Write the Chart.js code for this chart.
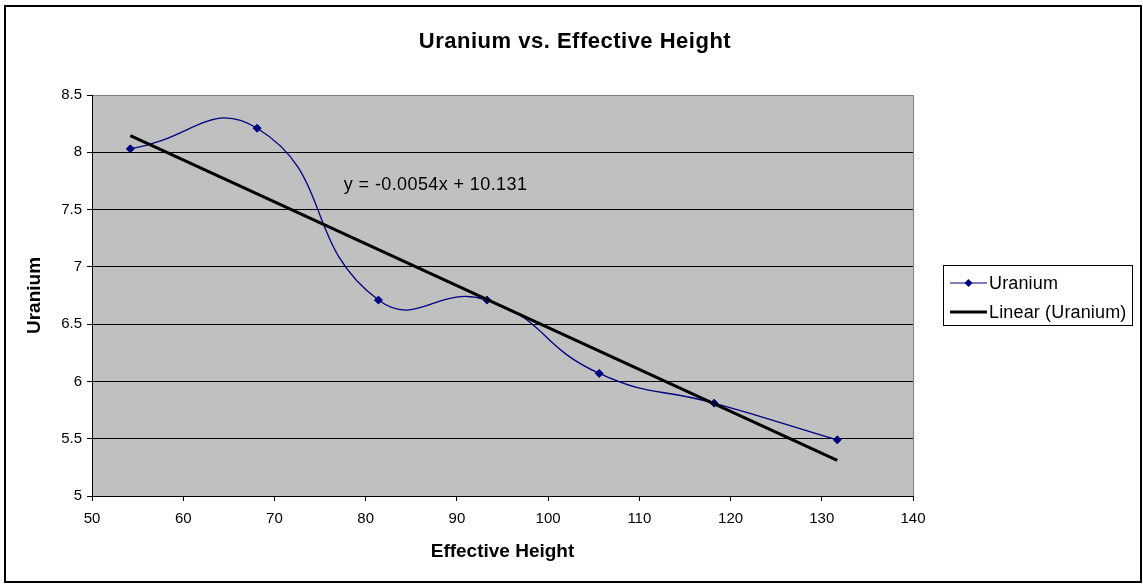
<!DOCTYPE html>
<html>
<head>
<meta charset="utf-8">
<script src="https://cdn.jsdelivr.net/npm/chart.js@4/dist/chart.umd.min.js"></script>
<style>
  html, body { margin: 0; padding: 0; background: #ffffff; }
  #wrap { width: 1143px; height: 584px; }
</style>
</head>
<body>
<div id="wrap"><canvas id="chart" width="1143" height="584"></canvas></div>
<script>
// Measurements: effective height vs uranium
const effectiveHeight = [54.2, 68.1, 81.4, 93.3, 105.6, 118.2, 131.7];
const uranium = [8.03, 8.21, 6.71, 6.71, 6.07, 5.81, 5.49];

const chartTitle = 'Uranium vs. Effective Height';
const xTitle = 'Effective Height';
const yTitle = 'Uranium';
const seriesName = 'Uranium';
const trendName = 'Linear (Uranium)';
const equationText = 'y = -0.0054x + 10.131';

const xTicks = { min: 50, max: 140, step: 10 };
const yTicks = { min: 5, max: 8.5, step: 0.5 };

// Least-squares linear fit of the measurements
function linearFit(xs, ys) {
  const n = xs.length;
  const mx = xs.reduce((a, b) => a + b, 0) / n;
  const my = ys.reduce((a, b) => a + b, 0) / n;
  let sxy = 0, sxx = 0;
  for (let i = 0; i < n; i++) {
    sxy += (xs[i] - mx) * (ys[i] - my);
    sxx += (xs[i] - mx) * (xs[i] - mx);
  }
  const slope = sxy / sxx;
  return { slope, intercept: my - slope * mx };
}
const fit = linearFit(effectiveHeight, uranium);
const xFirst = effectiveHeight[0];
const xLast = effectiveHeight[effectiveHeight.length - 1];
const trendPoints = [
  { x: xFirst, y: fit.slope * xFirst + fit.intercept },
  { x: xLast, y: fit.slope * xLast + fit.intercept }
];

const FONT = 'Arial, "Liberation Sans", Helvetica, sans-serif';
const NAVY = '#000080';

// Page frame, plot background, title, equation and legend box
const decorations = {
  id: 'decorations',
  beforeDraw(chart) {
    const ctx = chart.ctx;
    const a = chart.chartArea;
    ctx.save();
    ctx.fillStyle = '#ffffff';
    ctx.fillRect(0, 0, chart.width, chart.height);
    ctx.strokeStyle = '#000000';
    ctx.lineWidth = 2;
    ctx.strokeRect(5, 6, chart.width - 7, chart.height - 8);
    ctx.fillStyle = '#c0c0c0';
    ctx.fillRect(a.left, a.top, a.right - a.left, a.bottom - a.top);
    ctx.strokeStyle = '#808080';
    ctx.lineWidth = 1;
    ctx.beginPath();
    ctx.moveTo(a.left, a.top + 0.5);
    ctx.lineTo(a.right + 0.5, a.top + 0.5);
    ctx.lineTo(a.right + 0.5, a.bottom);
    ctx.stroke();
    ctx.restore();
  },
  afterDraw(chart) {
    const ctx = chart.ctx;
    const xs = chart.scales.x, ys = chart.scales.y;
    ctx.save();
    // Title
    ctx.fillStyle = '#000000';
    ctx.font = 'bold 22px ' + FONT;
    ctx.letterSpacing = '0.5px';
    ctx.textAlign = 'center';
    ctx.textBaseline = 'middle';
    ctx.fillText(chartTitle, 575, 42);
    // Trendline equation
    ctx.font = '18px ' + FONT;
    ctx.letterSpacing = '0.4px';
    ctx.textAlign = 'left';
    ctx.textBaseline = 'alphabetic';
    ctx.fillText(equationText, xs.getPixelForValue(77.6), ys.getPixelForValue(7.67));
    // Legend
    const lx = 943, ly = 265, lw = 189, lh = 60;
    ctx.letterSpacing = '0px';
    ctx.fillStyle = '#ffffff';
    ctx.fillRect(lx, ly, lw, lh);
    ctx.strokeStyle = '#000000';
    ctx.lineWidth = 1;
    ctx.strokeRect(lx + 0.5, ly + 0.5, lw, lh);
    const rows = [
      { label: seriesName, y: ly + 18, color: NAVY, width: 1, marker: true },
      { label: trendName, y: ly + 47, color: '#000000', width: 3, marker: false }
    ];
    ctx.font = '18px ' + FONT;
    ctx.letterSpacing = '0.15px';
    ctx.textBaseline = 'middle';
    rows.forEach(r => {
      ctx.strokeStyle = r.color;
      ctx.lineWidth = r.width;
      ctx.beginPath();
      ctx.moveTo(lx + 7, r.y);
      ctx.lineTo(lx + 44, r.y);
      ctx.stroke();
      if (r.marker) {
        const cx = lx + 25.5, s = 4;
        ctx.fillStyle = r.color;
        ctx.beginPath();
        ctx.moveTo(cx, r.y - s);
        ctx.lineTo(cx + s, r.y);
        ctx.lineTo(cx, r.y + s);
        ctx.lineTo(cx - s, r.y);
        ctx.closePath();
        ctx.fill();
      }
      ctx.fillStyle = '#000000';
      ctx.fillText(r.label, lx + 46, r.y + 1);
    });
    ctx.restore();
  }
};

new Chart(document.getElementById('chart'), {
  type: 'line',
  data: {
    datasets: [
      {
        label: trendName,
        data: trendPoints,
        borderColor: '#000000',
        borderWidth: 3,
        pointRadius: 0,
        tension: 0,
        order: 0
      },
      {
        label: seriesName,
        data: effectiveHeight.map((x, i) => ({ x, y: uranium[i] })),
        borderColor: NAVY,
        backgroundColor: NAVY,
        borderWidth: 1.3,
        pointStyle: 'rectRot',
        pointRadius: 4,
        pointBorderWidth: 1,
        tension: 0.5,
        order: 1
      }
    ]
  },
  options: {
    responsive: false,
    animation: false,
    devicePixelRatio: 1,
    layout: { padding: { left: 0, top: 95, right: 230, bottom: 0 } },
    plugins: {
      legend: { display: false },
      title: { display: false },
      tooltip: { enabled: false }
    },
    scales: {
      x: {
        type: 'linear',
        min: xTicks.min,
        max: xTicks.max,
        afterFit(scale) { scale.height = 88; },
        ticks: {
          stepSize: xTicks.step,
          color: '#000000',
          font: { family: FONT, size: 15 },
          padding: 9,
          maxRotation: 0
        },
        grid: {
          drawOnChartArea: false,
          tickLength: 5,
          tickColor: '#000000'
        },
        border: { display: true, color: '#000000', width: 1 },
        title: {
          display: true,
          text: xTitle,
          color: '#000000',
          font: { family: FONT, size: 19, weight: 'bold' },
          padding: { top: 0, bottom: 21 }
        }
      },
      y: {
        type: 'linear',
        min: yTicks.min,
        max: yTicks.max,
        afterFit(scale) { scale.width = 92; },
        ticks: {
          stepSize: yTicks.step,
          color: '#000000',
          font: { family: FONT, size: 15 },
          padding: 5,
          callback: v => String(v)
        },
        grid: {
          color: c => (c.tick && c.tick.value === yTicks.max ? '#808080' : '#000000'),
          tickColor: '#000000',
          tickLength: 5,
          lineWidth: 1
        },
        border: { display: true, color: '#000000', width: 1 },
        title: {
          display: true,
          text: yTitle,
          color: '#000000',
          font: { family: FONT, size: 19, weight: 'bold' },
          padding: { top: 23, bottom: 0 }
        }
      }
    }
  },
  plugins: [decorations]
});
</script>
</body>
</html>
